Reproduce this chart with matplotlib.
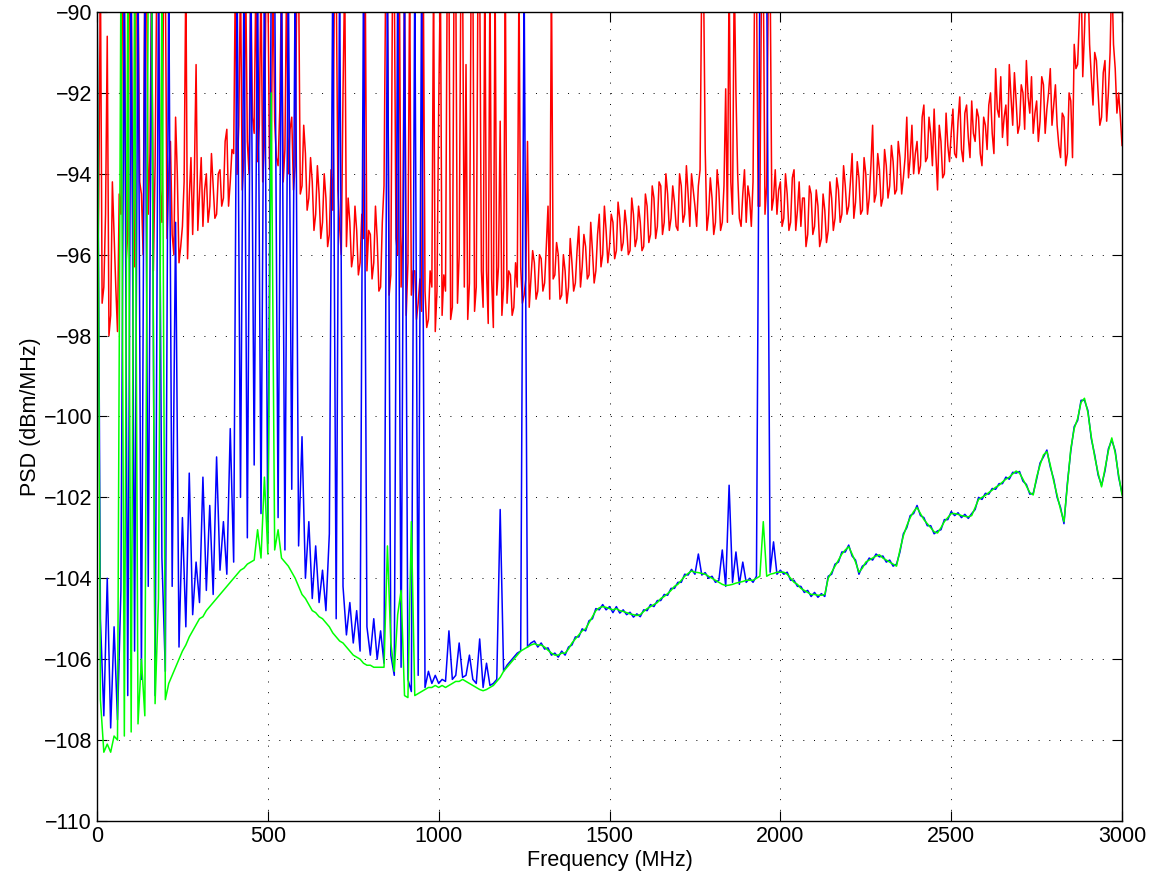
import matplotlib
matplotlib.use("Agg")
import matplotlib.pyplot as plt
import numpy as np

# frequency grid in MHz (10 MHz steps, 0..3000)
freq = np.arange(0, 3001, 10)

# red trace (dBm/MHz) at 0, 10, 20 ... MHz; values above -90 run off the top
red = [
    -97.5, -89, -96.8, -90.6, -97.5, -95.5, -97.9, -95.0, -89, -95.5,
    -89, -96.3, -89, -94.5, -89, -95.0, -89, -93.8, -89, -95.2,
    -89, -94.0, -95.5, -92.6, -96.2, -95.3, -89, -94.6, -95.5, -91.3,
    -94.5, -95.3, -94.0, -94.8, -94.3, -95.0, -93.9, -94.6, -92.9, -94.2,
    -93.5, -94.0, -89, -93.6, -93.2, -89, -93.0, -93.7, -89, -93.2,
    -89, -93.5, -92.7, -93.8, -89, -93.4, -94.0, -92.6, -93.8, -89,
    -94.3, -93.5, -94.6, -94.2, -95.0, -94.5, -95.2, -94.6, -95.5, -94.9,
    -89, -95.3, -92.0, -95.8, -95.2, -96.0, -95.4, -96.2, -95.6, -96.4,
    -95.5, -96.2, -95.6, -96.8, -94.3, -89, -96.5, -89, -96.0, -96.8,
    -89, -96.2, -97.0, -96.4, -97.2, -97.4, -96.9, -97.6, -96.8, -97.9,
    -92.4, -97.5, -96.9, -89, -97.3, -89, -96.0, -89, -91.3, -96.7,
    -89, -96.8, -89, -97.3, -96.4, -89, -97.8, -97.0, -92.7, -96.8,
    -97.2, -96.5, -97.3, -96.8, -96.3, -97.0, -93.2, -96.6, -96.2, -96.9,
    -96.1, -96.7, -94.8, -89, -96.5, -96.0, -97.0, -96.4, -96.8, -96.2,
    -96.7, -95.3, -96.3, -95.8, -96.5, -95.9, -96.4, -95.0, -96.0, -95.4,
    -95.8, -95.2, -95.9, -95.1, -95.7, -95.3, -95.9, -95.0, -95.6, -95.2,
    -95.8, -94.8, -95.5, -94.6, -95.3, -94.3, -95.2, -94.5, -95.1, -94.7,
    -95.4, -94.3, -95.0, -94.5, -94.0, -94.8, -94.3, -89, -93.4, -95.0,
    -94.6, -95.2, -94.4, -95.2, -91.9, -89, -95.0, -92.0, -95.1, -94.5,
    -95.2, -94.6, -94.2, -89, -94.8, -89, -94.3, -89, -94.6, -95.0,
    -94.2, -95.1, -94.5, -95.2, -93.9, -94.9, -95.3, -94.6, -95.5, -94.5,
    -95.3, -94.8, -95.6, -94.9, -95.4, -94.6, -95.1, -94.4, -95.0, -94.3,
    -94.8, -93.5, -94.7, -94.1, -94.9, -94.0, -94.6, -92.8, -94.5, -93.9,
    -94.6, -93.8, -94.3, -93.7, -94.4, -93.6, -94.1, -92.6, -93.6, -94.0,
    -93.2, -93.8, -92.3, -93.6, -93.0, -92.4, -94.4, -93.2, -94.0, -93.3,
    -93.0, -93.5, -92.7, -93.4, -92.5, -93.1, -92.2, -93.2, -92.6, -93.8,
    -92.8, -92.3, -93.0, -91.4, -92.6, -93.1, -92.3, -91.3, -92.8, -92.2,
    -92.8, -92.0, -91.2, -92.5, -93.0, -92.2, -92.7, -91.8, -92.4, -91.4,
    -92.3, -92.8, -93.6, -92.6, -93.5, -92.2, -90.8, -91.3, -89, -90.5,
    -89, -91.6, -91.0, -92.0, -92.6, -91.2, -92.0, -89, -91.4, -92.0,
    -93.3,
]

# red trace in between, at 5, 15, 25 ... 2995 MHz
red_mid = [
    -94.8, -97.2, -95.0, -98.0, -94.2, -96.8, -94.5, -89, -96.2, -89,
    -95.8, -89, -94.2, -96.0, -89, -93.5, -96.4, -89, -94.4, -89,
    -95.6, -93.2, -96.0, -94.0, -95.8, -94.2, -96.1, -93.6, -94.0, -95.4,
    -93.6, -94.4, -95.2, -93.5, -95.1, -94.0, -94.8, -93.2, -94.8, -93.4,
    -89, -92.8, -94.4, -89, -94.0, -92.6, -89, -92.8, -94.2, -89,
    -93.9, -89, -93.6, -92.4, -94.2, -89, -92.9, -94.4, -89, -94.5,
    -92.8, -94.9, -93.6, -95.4, -93.8, -95.6, -94.0, -95.8, -93.9, -89,
    -94.4, -96.0, -89, -94.6, -96.3, -94.8, -96.5, -95.0, -89, -95.4,
    -96.6, -94.8, -96.9, -95.2, -89, -97.0, -89, -95.6, -89, -95.5,
    -97.5, -89, -96.4, -97.6, -96.6, -89, -97.8, -96.4, -89, -96.9,
    -89, -96.5, -89, -97.6, -89, -97.2, -89, -96.8, -97.6, -89,
    -97.4, -89, -96.4, -89, -97.7, -96.6, -89, -96.3, -97.5, -89,
    -96.4, -97.5, -96.2, -89, -97.2, -96.6, -97.3, -95.9, -97.1, -96.0,
    -96.9, -95.8, -97.1, -96.6, -95.7, -97.1, -96.0, -97.2, -95.6, -96.9,
    -95.9, -96.8, -95.5, -96.6, -95.2, -96.7, -95.5, -96.3, -94.8, -96.2,
    -95.0, -96.1, -94.7, -95.9, -94.9, -96.0, -94.6, -95.8, -94.8, -95.9,
    -94.5, -95.7, -94.3, -95.6, -94.2, -95.5, -94.0, -95.4, -94.3, -95.3,
    -94.0, -95.2, -93.8, -95.3, -94.4, -95.3, -93.9, -89, -95.4, -94.1,
    -95.5, -93.9, -95.4, -94.3, -95.2, -94.2, -89, -94.0, -95.3, -93.9,
    -94.3, -95.3, -89, -94.8, -89, -95.0, -89, -94.9, -93.9, -94.4,
    -95.3, -94.0, -95.4, -94.1, -95.4, -94.2, -94.6, -95.8, -94.3, -95.5,
    -94.4, -95.8, -94.5, -95.7, -94.2, -95.4, -94.1, -95.2, -93.8, -95.0,
    -94.2, -95.1, -93.7, -95.0, -93.6, -95.0, -93.8, -94.7, -93.5, -94.8,
    -93.4, -94.6, -93.3, -94.5, -93.2, -94.5, -93.6, -94.1, -92.8, -93.5,
    -94.0, -92.6, -93.7, -92.6, -93.8, -93.5, -92.8, -94.1, -92.5, -93.7,
    -92.4, -93.6, -92.1, -93.7, -92.3, -93.6, -93.0, -92.4, -93.5, -92.6,
    -93.4, -92.0, -93.5, -92.4, -91.6, -92.6, -93.3, -92.1, -91.5, -93.0,
    -91.8, -92.9, -92.1, -91.6, -92.5, -93.2, -91.6, -93.0, -92.0, -92.8,
    -91.8, -93.3, -92.5, -93.8, -92.0, -93.6, -91.4, -90.2, -91.6, -89,
    -90.8, -92.3, -91.2, -92.8, -91.5, -92.7, -91.0, -90.8, -92.5, -92.6,
]

# blue trace
blue = [
    -89, -105.0, -107.4, -104.0, -107.7, -105.2, -107.5, -104.3, -89, -106.9,
    -89, -105.8, -89, -106.5, -89, -104.2, -89, -106.9, -89, -103.5,
    -106.3, -89, -104.2, -95.2, -105.7, -102.5, -105.2, -101.4, -104.9, -103.6,
    -104.6, -101.5, -104.3, -102.2, -104.4, -101.0, -103.8, -102.6, -103.9, -100.3,
    -103.6, -89, -102.0, -89, -103.0, -89, -101.2, -89, -102.4, -89,
    -103.1, -89, -89, -102.5, -89, -103.3, -89, -101.8, -89, -103.2,
    -100.5, -104.0, -102.6, -104.5, -103.2, -104.6, -103.8, -104.8, -102.9, -89,
    -105.0, -89, -104.2, -105.4, -104.6, -105.6, -104.8, -105.8, -89, -105.2,
    -105.9, -105.0, -106.0, -105.3, -106.1, -89, -105.9, -106.4, -89, -106.2,
    -89, -106.5, -106.8, -89, -106.4, -89, -106.7, -106.3, -106.6, -106.4,
    -106.6, -106.5, -106.55, -105.3, -106.5, -106.4, -105.6, -106.45, -106.4, -105.9,
    -106.5, -106.6, -105.5, -106.7, -106.1, -106.65, -106.6, -106.5, -102.3, -106.3,
    -106.15, -106.05, -105.95, -105.85, -105.8, -89, -105.7, -105.6, -105.55, -105.7,
    -105.6, -105.75, -105.72, -105.9, -105.85, -105.95, -105.8, -105.9, -105.7, -105.65,
    -105.45, -105.45, -105.25, -105.3, -105.05, -105.0, -104.75, -104.78, -104.65, -104.78,
    -104.7, -104.85, -104.7, -104.86, -104.78, -104.9, -104.84, -104.96, -104.88, -104.95,
    -104.78, -104.8, -104.65, -104.7, -104.55, -104.55, -104.4, -104.42, -104.25, -104.25,
    -104.1, -104.1, -103.9, -103.92, -103.78, -103.9, -103.4, -103.92, -103.86, -104.0,
    -103.95, -104.1, -104.05, -103.3, -104.2, -101.7, -104.1, -103.35, -104.15, -103.6,
    -104.1, -104.0, -104.1, -103.95, -89, -89, -89, -103.85, -103.1, -103.9,
    -103.8, -103.9, -103.85, -104.05, -104.05, -104.2, -104.2, -104.35, -104.3, -104.45,
    -104.35, -104.47, -104.38, -104.45, -103.95, -103.9, -103.65, -103.6, -103.35, -103.35,
    -103.18, -103.45, -103.55, -103.9, -103.7, -103.65, -103.5, -103.55, -103.4, -103.47,
    -103.45, -103.6, -103.55, -103.7, -103.65, -103.35, -102.9, -102.75, -102.45, -102.4,
    -102.2, -102.45, -102.5, -102.7, -102.7, -102.9, -102.83, -102.8, -102.55, -102.55,
    -102.35, -102.45, -102.38, -102.5, -102.42, -102.52, -102.4, -102.3, -102.0, -102.05,
    -101.9, -101.92, -101.78, -101.8, -101.66, -101.66, -101.5, -101.55, -101.38, -101.4,
    -101.36, -101.6, -101.68, -101.92, -101.9, -101.55, -101.15, -101.0, -100.83, -101.25,
    -101.55, -102.0, -102.25, -102.65, -101.65, -100.85, -100.25, -100.1, -99.6, -99.6,
    -99.85, -100.55, -100.95, -101.45, -101.7, -101.35, -100.8, -100.58, -100.85, -101.5,
    -101.9,
]

# green trace
green = [
    -89, -107.0, -108.3, -108.1, -108.3, -107.9, -108.0, -89, -107.9, -89,
    -107.8, -89, -107.6, -106.0, -107.4, -89, -89, -107.1, -104.5, -89,
    -107.0, -106.6, -106.4, -106.2, -106.0, -105.8, -105.65, -105.45, -105.3, -105.15,
    -105.0, -104.95, -104.8, -104.7, -104.6, -104.5, -104.4, -104.3, -104.2, -104.1,
    -104.0, -103.9, -103.8, -103.75, -103.65, -103.6, -103.55, -102.8, -103.5, -101.5,
    -103.4, -92.0, -103.3, -102.8, -103.5, -103.6, -103.7, -103.85, -104.0, -104.2,
    -104.4, -104.5, -104.65, -104.8, -104.85, -104.95, -105.0, -105.1, -105.2, -105.35,
    -105.45, -105.55, -105.6, -105.7, -105.8, -105.9, -105.95, -106.0, -106.1, -106.15,
    -106.15, -106.2, -106.2, -106.2, -106.2, -103.2, -105.6, -106.3, -104.9, -104.3,
    -106.9, -106.95, -102.6, -106.9, -106.85, -106.8, -106.75, -106.7, -106.7, -106.65,
    -106.7, -106.65, -106.7, -106.65, -106.6, -106.55, -106.55, -106.5, -106.55, -106.6,
    -106.65, -106.7, -106.75, -106.78, -106.75, -106.7, -106.65, -106.55, -106.45, -106.3,
    -106.2, -106.1, -106.0, -105.9, -105.8, -105.75, -105.7, -105.65, -105.62, -105.65,
    -105.65, -105.7, -105.78, -105.85, -105.9, -105.9, -105.85, -105.85, -105.75, -105.6,
    -105.5, -105.4, -105.3, -105.25, -105.1, -104.95, -104.8, -104.73, -104.7, -104.72,
    -104.75, -104.78, -104.75, -104.8, -104.82, -104.85, -104.88, -104.9, -104.92, -104.9,
    -104.82, -104.75, -104.7, -104.65, -104.6, -104.5, -104.45, -104.38, -104.3, -104.2,
    -104.15, -104.05, -103.95, -103.88, -103.82, -103.85, -103.86, -103.88, -103.9, -103.95,
    -104.0, -104.05, -104.1, -104.15, -104.18, -104.17, -104.15, -104.12, -104.1, -104.08,
    -104.05, -104.05, -104.05, -104.0, -103.95, -102.6, -103.95, -103.9, -103.88, -103.85,
    -103.85, -103.85, -103.9, -104.0, -104.1, -104.15, -104.25, -104.3, -104.35, -104.4,
    -104.4, -104.42, -104.42, -104.4, -104.0, -103.85, -103.7, -103.55, -103.4, -103.3,
    -103.22, -103.4, -103.6, -103.85, -103.75, -103.6, -103.55, -103.5, -103.45, -103.42,
    -103.5, -103.55, -103.6, -103.65, -103.7, -103.3, -102.95, -102.7, -102.5, -102.35,
    -102.25, -102.4, -102.55, -102.65, -102.75, -102.85, -102.88, -102.75, -102.6, -102.5,
    -102.4, -102.4, -102.42, -102.45, -102.47, -102.48, -102.45, -102.25, -102.05, -102.0,
    -101.95, -101.88, -101.82, -101.75, -101.7, -101.62, -101.55, -101.5, -101.42, -101.35,
    -101.4, -101.55, -101.72, -101.88, -101.94, -101.5, -101.2, -100.95, -100.87, -101.2,
    -101.6, -101.95, -102.3, -102.6, -101.7, -100.8, -100.3, -100.05, -99.65, -99.55,
    -99.9, -100.5, -101.0, -101.4, -101.74, -101.3, -100.85, -100.53, -100.9, -101.45,
    -101.94,
]

xticks = [0, 500, 1000, 1500, 2000, 2500, 3000]
yticks = [-110, -108, -106, -104, -102, -100, -98, -96, -94, -92, -90]

# interleave the two red samplings into one 5 MHz trace
freq_red = np.arange(0, 3001, 5)
red_all = np.empty(len(freq_red))
red_all[0::2] = red
red_all[1::2] = red_mid

plt.rcParams['font.family'] = ['Liberation Sans', 'DejaVu Sans']

fig = plt.figure(figsize=(11.52, 8.82), dpi=100)
ax = fig.add_axes([0.0842, 0.0692, 0.8898, 0.9172])

ax.plot(freq_red, red_all, color=(1, 0, 0), lw=1.1)
ax.plot(freq, blue, color=(0, 0, 1), lw=1.1)
ax.plot(freq, green, color=(0, 1, 0), lw=1.1)

ax.set_xlim(0, 3000)
ax.set_ylim(-110, -90)
ax.set_xticks(xticks)
ax.set_yticks(yticks)
ax.grid(True, color='black', linestyle=(0, (1, 10)), lw=0.7)
ax.tick_params(direction='in', top=True, right=True, length=7, width=0.8,
               labelsize=15.5)
for s in ax.spines.values():
    s.set_linewidth(1.0)

ax.set_xlabel('Frequency (MHz)', fontsize=15.5, labelpad=2)
ax.set_ylabel('PSD (dBm/MHz)', fontsize=15.5, labelpad=2)

fig.savefig('out.png', dpi=100)
